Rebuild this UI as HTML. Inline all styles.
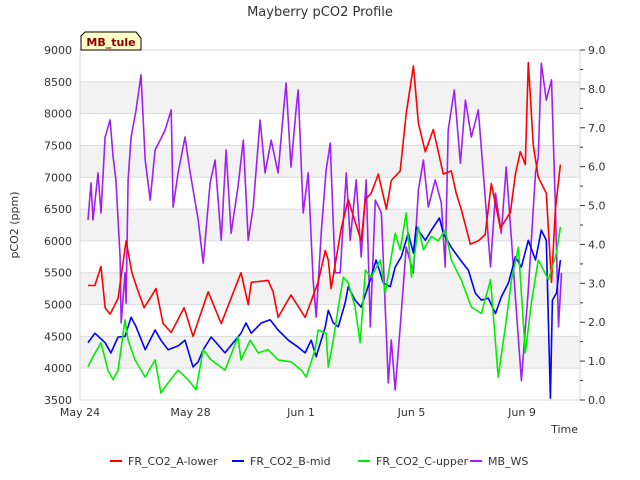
<!DOCTYPE html>
<html><head><meta charset="utf-8"><style>
body{margin:0;background:#fff;}
svg{display:block;font-family:"DejaVu Sans","Liberation Sans",sans-serif;}
</style></head><body>
<svg id="chart" width="640" height="480">
<text x="320" y="16" text-anchor="middle" font-size="13" fill="#333">Mayberry pCO2 Profile</text>
<g id="bands"></g><g id="grid"></g>
<rect x="80" y="50" width="500" height="350" fill="none" stroke="#d8d8d8"/>
<g id="series"></g>
<g id="axes"></g>
<text transform="translate(18,225) rotate(-90)" text-anchor="middle" font-size="11" fill="#333">pCO2 (ppm)</text>
<text x="578" y="433" text-anchor="end" font-size="11" fill="#333">Time</text>
<g>
<path d="M81,50 L81,36 L85,32 L136,32 L141,38 L141,50 Z" fill="#ffffc8" stroke="#000" stroke-width="1"/>
<text x="111" y="46" text-anchor="middle" font-size="11" font-weight="bold" fill="#8b0000">MB_tule</text>
</g>
<g id="legend"></g>
</svg>
<script>
const L=80,R=580,T=50,B=400;
const yTicks=[3500,4000,4500,5000,5500,6000,6500,7000,7500,8000,8500,9000];
const y2Ticks=[0,1,2,3,4,5,6,7,8,9];
const xTickDays=[0,4,8,12,16];
const xTickLabels=["May 24","May 28","Jun 1","Jun 5","Jun 9"];
const redDays=[0.29,0.54,0.76,0.91,1.09,1.38,1.67,1.88,2.07,2.32,2.54,2.75,3.01,3.30,3.77,4.09,4.64,5.11,5.83,6.09,6.20,6.81,6.99,7.17,7.64,8.15,8.62,8.88,8.99,9.09,9.46,9.71,9.96,10.18,10.33,10.54,10.80,11.09,11.27,11.59,11.81,12.07,12.25,12.50,12.79,13.15,13.44,13.62,13.80,14.13,14.42,14.67,14.89,15.22,15.58,15.76,15.94,16.12,16.23,16.41,16.59,16.88,17.07,17.21,17.39];
const redVals=[5300,5300,5600,4950,4850,5100,6000,5500,5250,4950,5100,5250,4700,4560,4950,4500,5200,4700,5500,5000,5350,5380,5200,4800,5150,4800,5350,5850,5700,5250,6200,6650,6300,6000,6650,6750,7050,6500,6950,7100,8000,8750,7850,7400,7750,7050,7100,6750,6500,5950,6000,6100,6900,6200,6450,7050,7400,7200,8800,7500,7000,6750,5350,6500,7200];
const blueDays=[0.29,0.54,0.91,1.12,1.38,1.63,1.85,2.03,2.36,2.72,2.93,3.19,3.55,3.80,4.09,4.28,4.46,4.75,5.25,5.62,5.83,6.01,6.20,6.56,6.88,7.17,7.54,7.90,8.15,8.37,8.55,8.88,8.99,9.17,9.35,9.60,9.71,9.96,10.18,10.51,10.72,10.98,11.23,11.41,11.63,11.88,12.07,12.17,12.50,12.72,13.01,13.15,13.44,13.77,14.06,14.31,14.53,14.78,15.04,15.25,15.51,15.76,15.98,16.23,16.49,16.70,16.88,17.03,17.10,17.25,17.39];
const blueVals=[4400,4550,4400,4240,4490,4500,4800,4650,4290,4600,4440,4290,4350,4440,4020,4100,4290,4490,4240,4440,4550,4710,4550,4710,4760,4600,4440,4330,4240,4440,4180,4650,4910,4710,4650,5030,5280,5070,4960,5390,5700,5340,5280,5590,5750,6120,5810,6220,6010,6170,6360,6120,5900,5700,5540,5180,5070,5100,4860,5120,5340,5750,5590,6010,5700,6170,6010,3530,5070,5180,5700];
const greenDays=[0.29,0.47,0.76,1.01,1.20,1.38,1.63,1.74,1.99,2.36,2.72,2.93,3.19,3.55,3.91,4.20,4.46,4.75,5.25,5.72,5.83,6.16,6.45,6.81,7.17,7.64,8.01,8.19,8.51,8.62,8.91,8.99,9.17,9.35,9.53,9.71,9.96,10.14,10.33,10.54,10.87,11.05,11.41,11.59,11.81,12.00,12.25,12.43,12.72,12.97,13.22,13.44,13.80,14.17,14.53,14.86,15.14,15.40,15.62,15.87,16.12,16.34,16.59,16.96,17.25,17.39];
const greenVals=[4020,4180,4400,3970,3820,3970,4760,4440,4130,3860,4130,3610,3770,3970,3820,3660,4290,4130,3970,4490,4130,4440,4240,4290,4130,4100,3970,3860,4290,4600,4550,4020,4440,4960,5430,5340,4960,4400,5540,5430,5700,5180,6120,5860,6440,5430,6220,5860,6070,6000,6170,5700,5390,4960,4860,5390,3860,4650,5390,5900,4240,5030,5700,5390,5810,6220];
const wsDays=[0.29,0.40,0.47,0.65,0.76,0.91,1.09,1.20,1.30,1.45,1.49,1.63,1.67,1.74,1.85,2.03,2.21,2.36,2.54,2.72,2.90,3.08,3.30,3.37,3.55,3.80,3.99,4.28,4.46,4.71,4.89,5.11,5.29,5.47,5.72,5.91,6.09,6.27,6.52,6.70,6.92,7.17,7.36,7.46,7.64,7.83,7.90,8.08,8.26,8.44,8.55,8.73,8.91,9.06,9.09,9.24,9.42,9.64,9.78,10.00,10.18,10.36,10.51,10.69,10.91,11.16,11.27,11.41,11.59,11.81,12.07,12.25,12.43,12.61,12.86,13.08,13.22,13.33,13.55,13.77,13.95,14.17,14.42,14.60,14.86,15.04,15.25,15.43,15.62,15.80,15.98,16.23,16.49,16.59,16.70,16.88,17.07,17.21,17.32,17.43];
const wsVals=[4.63,5.58,4.63,5.84,4.81,6.76,7.20,6.25,5.66,3.68,1.98,3.27,2.49,5.66,6.76,7.46,8.36,6.17,5.14,6.43,6.68,6.94,7.46,4.96,5.84,6.76,5.84,4.63,3.52,5.58,6.17,4.11,6.43,4.29,5.48,6.68,4.11,4.96,7.20,5.84,6.68,5.84,7.38,8.15,5.99,7.53,7.97,4.81,5.84,3.09,2.13,4.29,5.91,6.61,5.99,3.27,3.27,5.84,4.11,5.66,3.68,5.66,1.88,5.14,4.81,0.44,1.54,0.26,1.88,3.93,3.27,5.40,6.17,4.96,5.66,5.07,3.42,6.94,7.97,6.09,7.71,6.76,7.46,5.84,3.42,5.32,4.29,5.99,4.11,2.24,0.5,2.83,5.84,6.25,8.66,7.71,8.23,4.96,1.88,3.27];
const seriesNames=["FR_CO2_A-lower","FR_CO2_B-mid","FR_CO2_C-upper","MB_WS"];
const seriesColors=["#ff0000","#0000ff","#00ee00","#a020f0"];

const NS="http://www.w3.org/2000/svg";
const xS=d=>L+d*(R-L)/18.1;
const yS=v=>B-(v-3500)*(B-T)/5500;
const y2S=v=>B-v*(B-T)/9;
function mk(tag,attrs,parent){const e=document.createElementNS(NS,tag);for(const k in attrs)e.setAttribute(k,attrs[k]);parent.appendChild(e);return e;}
const bands=document.getElementById('bands'),grid=document.getElementById('grid'),axes=document.getElementById('axes'),ser=document.getElementById('series'),leg=document.getElementById('legend');
for(let i=0;i<yTicks.length-1;i++){
  if(i%2===1){const r=mk('rect',{x:L,y:yS(yTicks[i+1]),width:R-L,height:yS(yTicks[i])-yS(yTicks[i+1]),fill:'#f2f2f2'},bands);
  
  }
}
yTicks.forEach(v=>{
  const g=mk('line',{x1:L,x2:R,y1:yS(v),y2:yS(v),stroke:'#dcdcdc'},grid);
  
  
  const t=mk('text',{x:L-8,y:yS(v)+4,'text-anchor':'end','font-size':11,fill:'#333'},axes);t.textContent=v;
  
  
});
y2Ticks.forEach(v=>{
  const tk=mk('line',{x1:R,x2:R+5,y1:y2S(v),y2:y2S(v),stroke:'#333'},axes);
  
  
  if(v<9){const m=mk('line',{x1:R,x2:R+3,y1:y2S(v+0.5),y2:y2S(v+0.5),stroke:'#333'},axes);
  
  }
  const t=mk('text',{x:R+8,y:y2S(v)+4,'font-size':11,fill:'#333'},axes);t.textContent=v.toFixed(1);
  
  
});
xTickDays.forEach((d,i)=>{
  const t=mk('text',{x:xS(d),y:416,'text-anchor':'middle','font-size':11,fill:'#333'},axes);t.textContent=xTickLabels[i];
  
  
});
const all=[[redDays,redVals,yS],[blueDays,blueVals,yS],[greenDays,greenVals,yS],[wsDays,wsVals,y2S]];
const order=[3,0,1,2];
order.forEach(i=>{
  const [ds,vs,sc]=all[i];const n=Math.min(ds.length,vs.length);
  let p='';for(let k=0;k<n;k++)p+=(k?'L':'M')+xS(ds[k]).toFixed(1)+','+sc(vs[k]).toFixed(1);
  const e=mk('path',{d:p,fill:'none',stroke:seriesColors[i],'stroke-width':1.6,'stroke-linejoin':'round'},ser);
  
  
});
const legX=[110,232,358,470];
seriesNames.forEach((nm,i)=>{
  const g=mk('g',{},leg);
  
  
  mk('line',{x1:legX[i],x2:legX[i]+12,y1:461,y2:461,stroke:seriesColors[i],'stroke-width':2},g);
  const t=mk('text',{x:legX[i]+18,y:465,'font-size':11,fill:'#333'},g);t.textContent=nm;
});
</script>
</body></html>
